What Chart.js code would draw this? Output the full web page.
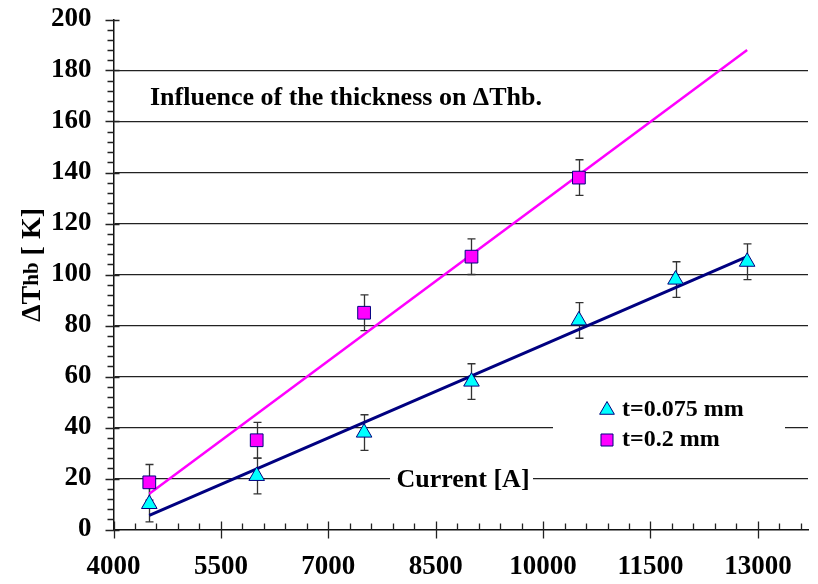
<!DOCTYPE html>
<html>
<head>
<meta charset="utf-8">
<script src="https://cdn.jsdelivr.net/npm/chart.js@4.4.1/dist/chart.umd.min.js"></script>
<style>
  html, body { margin: 0; padding: 0; background: #fff; }
  #wrap { width: 818px; height: 584px; }
</style>
</head>
<body>
<div id="wrap"><canvas id="thbChart" width="818" height="584"></canvas></div>
<script>
// Current [A] for both foil thicknesses
const current075 = [4500, 6000, 7500, 9000, 10500, 11850, 12850];
const current02 = [4500, 6000, 7500, 9000, 10500];

// Measured ΔThb [K] and error bar half-widths
const dThb075 = [10, 21, 38, 58, 82, 98, 105];
const dThb02 = [18.5, 35, 85, 107, 138];
const err075 = [7, 7, 7, 7, 7, 7, 7];
const err02 = [7, 7, 7, 7, 7];

// Linear trend lines, start and end points [current, ΔThb]
const trend075 = [[4500, 5.5], [12850, 107]];
const trend02 = [[4500, 14], [12850, 188]];

const xTicks = [4000, 5500, 7000, 8500, 10000, 11500, 13000];
const yTicks = [0, 20, 40, 60, 80, 100, 120, 140, 160, 180, 200];

const SERIF = '"Liberation Serif", "Times New Roman", serif';

function toPoints(xs, ys) {
  return xs.map((x, i) => ({ x: x, y: ys[i] }));
}

// error bars, axis tick marks, text boxes and legend
const decorations = {
  id: 'decorations',
  beforeDatasetsDraw(chart) {
    const ctx = chart.ctx;
    const xs = chart.scales.x, ys = chart.scales.y;
    const ca = chart.chartArea;
    ctx.save();

    // minor and major tick marks
    ctx.strokeStyle = '#222';
    ctx.lineWidth = 1.3;
    ctx.beginPath();
    for (let v = xs.min; v <= xs.max; v += 300) {
      const px = Math.round(xs.getPixelForValue(v)) + 0.5;
      if ((v - 4000) % 1500 === 0) {
        ctx.moveTo(px, ca.bottom - 8); ctx.lineTo(px, ca.bottom + 9);
      } else {
        ctx.moveTo(px, ca.bottom - 6); ctx.lineTo(px, ca.bottom);
      }
    }
    for (let v = 0; v <= 200; v += 4) {
      const py = Math.round(ys.getPixelForValue(v)) + 0.5;
      if (v % 20 === 0) {
        ctx.moveTo(ca.left - 8, py); ctx.lineTo(ca.left + 6, py);
      } else {
        ctx.moveTo(ca.left - 6, py); ctx.lineTo(ca.left, py);
      }
    }
    ctx.stroke();

    // white boxes behind the inner labels
    ctx.fillStyle = '#fff';
    ctx.fillRect(390, 465, 143, 30);
    ctx.fillRect(553, 392, 232, 64);

    // error bars
    ctx.strokeStyle = '#333';
    ctx.lineWidth = 1.3;
    const bars = [[current075, dThb075, err075], [current02, dThb02, err02]];
    bars.forEach(([cx, cy, ce]) => {
      cx.forEach((x, i) => {
        const px = Math.round(xs.getPixelForValue(x)) + 0.5;
        const top = ys.getPixelForValue(cy[i] + ce[i]);
        const bot = ys.getPixelForValue(cy[i] - ce[i]);
        ctx.beginPath();
        ctx.moveTo(px, top); ctx.lineTo(px, bot);
        ctx.moveTo(px - 4, top); ctx.lineTo(px + 4, top);
        ctx.moveTo(px - 4, bot); ctx.lineTo(px + 4, bot);
        ctx.stroke();
      });
    });

    // texts
    ctx.fillStyle = '#000';
    ctx.textBaseline = 'middle';
    ctx.font = 'bold 26px ' + SERIF;
    ctx.textAlign = 'left';
    ctx.fillText('Influence of the thickness on ΔThb.', 150, 98);
    ctx.font = 'bold 26px ' + SERIF;
    ctx.textAlign = 'center';
    ctx.fillText('Current [A]', 463, 480);

    // y axis title with smaller "hb"
    ctx.translate(33, 265);
    ctx.rotate(-Math.PI / 2);
    const parts = [['ΔT', 28], ['hb', 21], [' [ K]', 28]];
    let total = 0;
    parts.forEach(p => { ctx.font = 'bold ' + p[1] + 'px ' + SERIF; total += ctx.measureText(p[0]).width; });
    let tx = -total / 2;
    ctx.textAlign = 'left';
    parts.forEach(p => {
      ctx.font = 'bold ' + p[1] + 'px ' + SERIF;
      ctx.fillText(p[0], tx, 0);
      tx += ctx.measureText(p[0]).width;
    });
    ctx.restore();

    // legend
    ctx.save();
    const entries = [chart.data.datasets[0], chart.data.datasets[1]];
    entries.forEach((ds, i) => {
      const ly = 410 + i * 30;
      ctx.fillStyle = ds.backgroundColor;
      ctx.strokeStyle = ds.borderColor;
      ctx.lineWidth = 1;
      Chart.helpers.drawPoint(ctx, { pointStyle: ds.pointStyle, radius: ds.pointRadius - 0.5, rotation: 0, borderWidth: 1 }, 607, ly);
      ctx.fillStyle = '#000';
      ctx.font = 'bold 24px ' + SERIF;
      ctx.textAlign = 'left';
      ctx.textBaseline = 'middle';
      ctx.fillText(ds.label, 622, ly);
    });
    ctx.restore();
  }
};

const ctx = document.getElementById('thbChart').getContext('2d');
const thbChart = new Chart(ctx, {
  type: 'scatter',
  data: {
    datasets: [
      {
        label: 't=0.075 mm',
        data: toPoints(current075, dThb075),
        pointStyle: 'triangle',
        pointRadius: 9,
        backgroundColor: '#00ffff',
        borderColor: '#000080',
        borderWidth: 1
      },
      {
        label: 't=0.2 mm',
        data: toPoints(current02, dThb02),
        pointStyle: 'rect',
        pointRadius: 9,
        backgroundColor: '#ff00ff',
        borderColor: '#000080',
        borderWidth: 1
      },
      {
        label: 'trend 0.075',
        data: trend075.map(p => ({ x: p[0], y: p[1] })),
        showLine: true,
        pointRadius: 0,
        borderColor: '#000080',
        borderWidth: 3
      },
      {
        label: 'trend 0.2',
        data: trend02.map(p => ({ x: p[0], y: p[1] })),
        showLine: true,
        pointRadius: 0,
        borderColor: '#ff00ff',
        borderWidth: 2.5
      }
    ]
  },
  options: {
    responsive: false,
    animation: false,
    devicePixelRatio: 1,
    layout: { padding: { top: 19.5, right: 10, left: 0, bottom: 0 } },
    plugins: {
      legend: { display: false },
      tooltip: { enabled: false }
    },
    scales: {
      x: {
        type: 'linear',
        min: 4000,
        max: 13700,
        afterBuildTicks: (scale) => { scale.ticks = xTicks.map(v => ({ value: v })); },
        afterFit: (scale) => { scale.height = 54.5; },
        grid: { display: false, drawTicks: false },
        border: { display: true, color: '#111', width: 1.5 },
        ticks: {
          padding: 21,
          maxRotation: 0,
          autoSkip: false,
          color: '#000',
          callback: (v) => String(v),
          font: { family: SERIF, size: 27, weight: 'bold' }
        }
      },
      y: {
        min: 0,
        max: 200,
        afterBuildTicks: (scale) => { scale.ticks = yTicks.map(v => ({ value: v })); },
        afterFit: (scale) => {
          scale.width = 113.5;
          scale.paddingTop = 0;
          scale.paddingBottom = 0;
        },
        grid: {
          drawTicks: false,
          lineWidth: 1.3,
          color: (c) => (c.tick && (c.tick.value === 0 || c.tick.value === 200)) ? 'rgba(0,0,0,0)' : '#222'
        },
        border: { display: true, color: '#111', width: 1.5 },
        ticks: {
          padding: 22,
          color: '#000',
          callback: (v) => String(v),
          font: { family: SERIF, size: 27, weight: 'bold' }
        }
      }
    }
  },
  plugins: [decorations]
});
</script>
</body>
</html>
